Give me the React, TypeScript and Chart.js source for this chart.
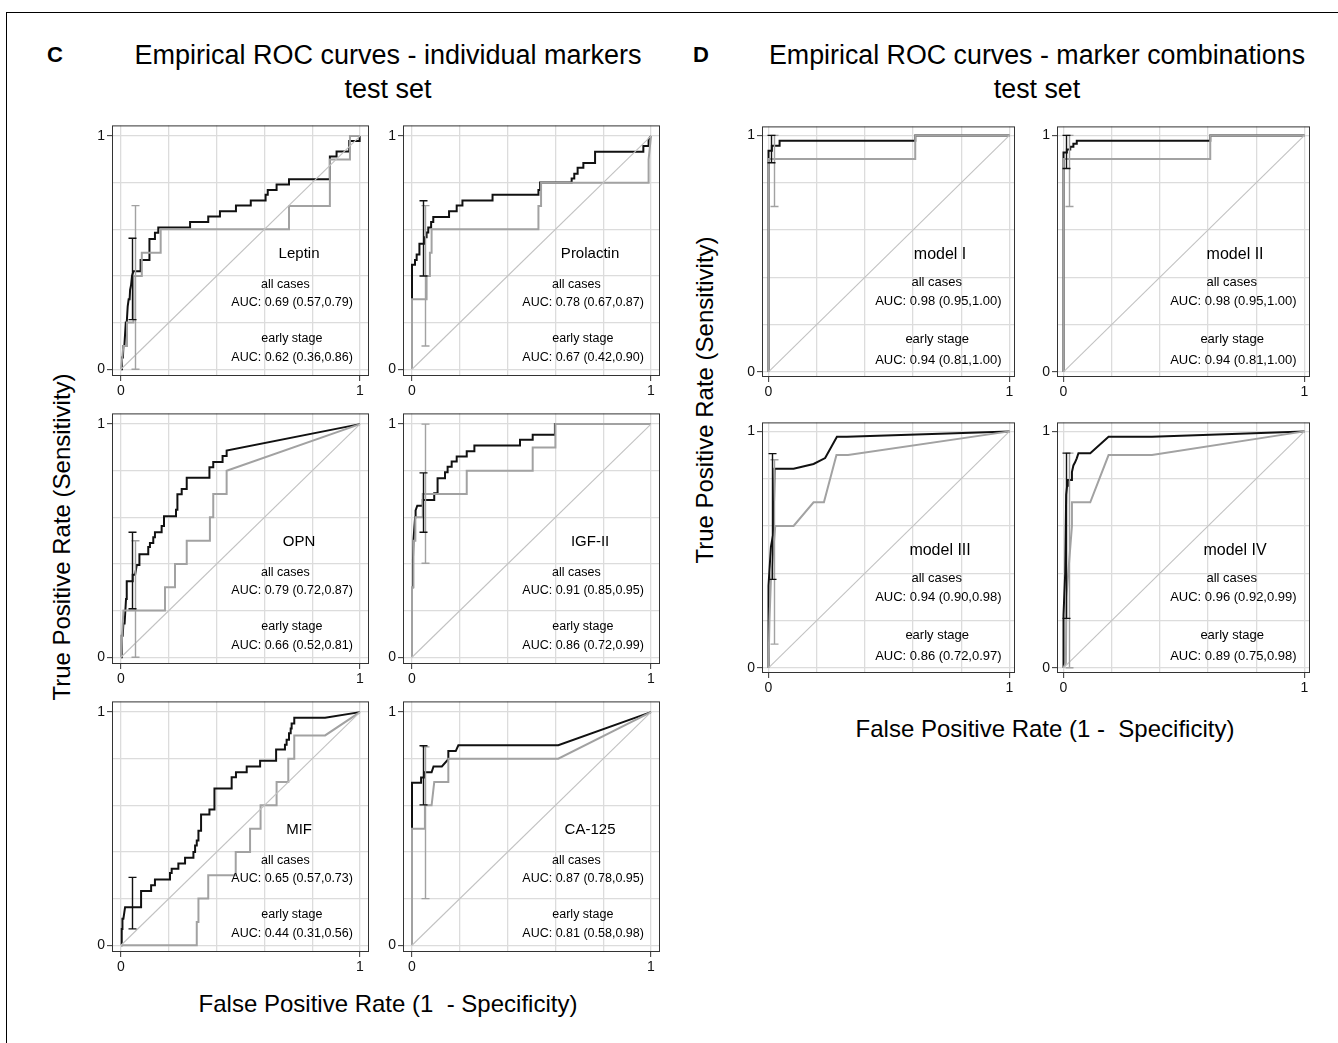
import React, { useEffect, useRef } from "react";
import { Chart, registerables } from "chart.js";

Chart.register(...registerables);

type Pt = [number, number];
type Bar = [number, number, number]; // x, low, high

const FONT = "'Liberation Sans', Arial, Helvetica, sans-serif";

// ---------- tick values ----------
const GRID_TICKS = [0, 0.2, 0.4, 0.6, 0.8, 1];
const LABELED_TICKS = [0, 1];
const DIAGONAL: Pt[] = [[0, 0], [1, 1]];

// ---------- panel names and AUC texts ----------
const MARKER_NAMES = ["Leptin", "Prolactin", "OPN", "IGF-II", "MIF", "CA-125"];
const MODEL_NAMES = ["model I", "model II", "model III", "model IV"];
const MARKER_AUC_ALL = [
  "AUC: 0.69 (0.57,0.79)",
  "AUC: 0.78 (0.67,0.87)",
  "AUC: 0.79 (0.72,0.87)",
  "AUC: 0.91 (0.85,0.95)",
  "AUC: 0.65 (0.57,0.73)",
  "AUC: 0.87 (0.78,0.95)",
];
const MARKER_AUC_EARLY = [
  "AUC: 0.62 (0.36,0.86)",
  "AUC: 0.67 (0.42,0.90)",
  "AUC: 0.66 (0.52,0.81)",
  "AUC: 0.86 (0.72,0.99)",
  "AUC: 0.44 (0.31,0.56)",
  "AUC: 0.81 (0.58,0.98)",
];
const MODEL_AUC_ALL = [
  "AUC: 0.98 (0.95,1.00)",
  "AUC: 0.98 (0.95,1.00)",
  "AUC: 0.94 (0.90,0.98)",
  "AUC: 0.96 (0.92,0.99)",
];
const MODEL_AUC_EARLY = [
  "AUC: 0.94 (0.81,1.00)",
  "AUC: 0.94 (0.81,1.00)",
  "AUC: 0.86 (0.72,0.97)",
  "AUC: 0.89 (0.75,0.98)",
];

// ---------- ROC curves: all cases (black) and early stage (grey) ----------
const leptinAll: Pt[] = [[0,0],[0.004,0.05],[0.008,0.05],[0.01,0.1],[0.014,0.1],[0.02,0.2],[0.024,0.2],[0.028,0.27],[0.032,0.3],[0.036,0.3],[0.038,0.34],[0.042,0.36],[0.046,0.4],[0.052,0.42],[0.082,0.42],[0.082,0.469],[0.119,0.469],[0.119,0.559],[0.142,0.559],[0.142,0.585],[0.156,0.585],[0.156,0.608],[0.289,0.608],[0.289,0.632],[0.365,0.632],[0.365,0.655],[0.414,0.655],[0.414,0.678],[0.481,0.678],[0.481,0.702],[0.543,0.702],[0.543,0.724],[0.605,0.724],[0.605,0.748],[0.614,0.748],[0.614,0.769],[0.651,0.769],[0.651,0.793],[0.703,0.793],[0.703,0.815],[0.874,0.815],[0.874,0.913],[0.902,0.913],[0.902,0.934],[0.955,0.934],[0.955,0.979],[0.997,0.979],[0.997,1],[1,1]];
const leptinEarly: Pt[] = [[0,0],[0.01,0.1],[0.025,0.1],[0.025,0.2],[0.052,0.2],[0.052,0.4],[0.087,0.4],[0.087,0.5],[0.166,0.5],[0.166,0.6],[0.703,0.6],[0.703,0.7],[0.874,0.7],[0.874,0.9],[0.958,0.9],[0.958,1],[1,1]];

const prolactinAll: Pt[] = [[0,0.3],[0,0.448],[0.0126,0.448],[0.0126,0.469],[0.0195,0.469],[0.0195,0.492],[0.031,0.492],[0.031,0.538],[0.052,0.538],[0.052,0.566],[0.061,0.566],[0.061,0.587],[0.068,0.587],[0.068,0.608],[0.08,0.608],[0.08,0.632],[0.089,0.632],[0.089,0.653],[0.155,0.653],[0.155,0.678],[0.187,0.678],[0.187,0.702],[0.211,0.702],[0.211,0.724],[0.337,0.724],[0.337,0.748],[0.529,0.748],[0.529,0.769],[0.536,0.769],[0.536,0.801],[0.668,0.801],[0.668,0.818],[0.679,0.818],[0.679,0.839],[0.693,0.839],[0.693,0.864],[0.717,0.864],[0.717,0.885],[0.766,0.885],[0.766,0.933],[0.968,0.933],[0.968,0.958],[0.99,0.958],[0.99,0.986],[1,1]];
const prolactinEarly: Pt[] = [[0,0],[0,0.3],[0.061,0.3],[0.061,0.4],[0.075,0.4],[0.075,0.5],[0.082,0.5],[0.082,0.6],[0.529,0.6],[0.529,0.7],[0.54,0.7],[0.54,0.8],[0.99,0.8],[0.99,0.9],[1,1]];

const opnAll: Pt[] = [[0,0],[0.003,0.092],[0.007,0.092],[0.01,0.145],[0.015,0.145],[0.021,0.25],[0.024,0.326],[0.049,0.326],[0.049,0.354],[0.059,0.354],[0.066,0.396],[0.077,0.396],[0.077,0.442],[0.114,0.442],[0.114,0.473],[0.121,0.473],[0.121,0.49],[0.135,0.49],[0.135,0.515],[0.142,0.515],[0.142,0.536],[0.17,0.536],[0.17,0.563],[0.18,0.563],[0.18,0.605],[0.23,0.605],[0.23,0.633],[0.236,0.633],[0.236,0.699],[0.254,0.699],[0.254,0.722],[0.275,0.722],[0.275,0.77],[0.37,0.77],[0.37,0.815],[0.386,0.815],[0.386,0.838],[0.425,0.838],[0.425,0.863],[0.442,0.863],[0.442,0.887],[1,1]];
const opnEarly: Pt[] = [[0,0],[0.01,0.2],[0.184,0.2],[0.184,0.3],[0.226,0.3],[0.226,0.4],[0.275,0.4],[0.275,0.5],[0.372,0.5],[0.372,0.6],[0.386,0.6],[0.386,0.7],[0.442,0.7],[0.442,0.8],[1,1]];

const igfAll: Pt[] = [[0,0.3],[0.004,0.42],[0.006,0.5],[0.01,0.56],[0.013,0.6],[0.015,0.63],[0.022,0.65],[0.045,0.65],[0.045,0.675],[0.093,0.675],[0.093,0.703],[0.107,0.703],[0.107,0.768],[0.138,0.768],[0.138,0.794],[0.149,0.794],[0.149,0.817],[0.166,0.817],[0.166,0.84],[0.187,0.84],[0.187,0.861],[0.229,0.861],[0.229,0.884],[0.261,0.884],[0.261,0.908],[0.452,0.908],[0.452,0.933],[0.505,0.933],[0.505,0.954],[0.598,0.954],[0.598,1],[1,1]];
const igfEarly: Pt[] = [[0,0],[0,0.3],[0.006,0.3],[0.006,0.5],[0.014,0.5],[0.014,0.6],[0.045,0.6],[0.045,0.7],[0.229,0.7],[0.229,0.8],[0.505,0.8],[0.505,0.9],[0.6,0.9],[0.6,1],[1,1]];

const mifAll: Pt[] = [[0,0],[0.003,0.07],[0.006,0.07],[0.006,0.114],[0.01,0.114],[0.014,0.142],[0.017,0.163],[0.084,0.163],[0.084,0.233],[0.126,0.233],[0.126,0.257],[0.142,0.257],[0.142,0.282],[0.205,0.282],[0.205,0.31],[0.212,0.31],[0.212,0.328],[0.24,0.328],[0.24,0.351],[0.268,0.351],[0.268,0.375],[0.303,0.375],[0.303,0.4],[0.31,0.4],[0.31,0.428],[0.317,0.428],[0.317,0.449],[0.324,0.449],[0.324,0.491],[0.335,0.491],[0.335,0.561],[0.37,0.561],[0.37,0.582],[0.391,0.582],[0.391,0.672],[0.463,0.672],[0.463,0.721],[0.481,0.721],[0.481,0.742],[0.526,0.742],[0.526,0.767],[0.582,0.767],[0.582,0.791],[0.649,0.791],[0.649,0.84],[0.686,0.84],[0.686,0.86],[0.693,0.86],[0.693,0.881],[0.703,0.881],[0.703,0.909],[0.71,0.909],[0.71,0.93],[0.714,0.93],[0.714,0.951],[0.725,0.951],[0.725,0.976],[0.854,0.976],[1,1]];
const mifEarly: Pt[] = [[0,0],[0.317,0],[0.317,0.1],[0.324,0.1],[0.324,0.2],[0.365,0.2],[0.365,0.3],[0.48,0.3],[0.48,0.4],[0.54,0.4],[0.54,0.5],[0.584,0.5],[0.584,0.6],[0.651,0.6],[0.651,0.7],[0.7,0.7],[0.7,0.8],[0.725,0.8],[0.725,0.9],[0.854,0.9],[1,1]];

const ca125All: Pt[] = [[0,0.5],[0,0.697],[0.038,0.697],[0.038,0.72],[0.05,0.72],[0.05,0.742],[0.082,0.742],[0.09,0.767],[0.125,0.767],[0.152,0.798],[0.152,0.833],[0.183,0.833],[0.194,0.858],[0.612,0.858],[1,1]];
const ca125Early: Pt[] = [[0,0],[0,0.5],[0.054,0.5],[0.054,0.6],[0.082,0.6],[0.093,0.7],[0.152,0.7],[0.152,0.8],[0.612,0.8],[1,1]];

const model1All: Pt[] = [[0,0],[0,0.935],[0.014,0.935],[0.014,0.956],[0.046,0.956],[0.046,0.977],[0.609,0.977],[0.609,1],[1,1]];
const model1Early: Pt[] = [[0,0],[0,0.9],[0.609,0.9],[0.609,1],[1,1]];
const model2All: Pt[] = [[0,0],[0,0.928],[0.014,0.928],[0.014,0.94],[0.028,0.94],[0.028,0.952],[0.041,0.952],[0.041,0.965],[0.055,0.965],[0.055,0.977],[0.609,0.977],[0.609,1],[1,1]];
const model2Early: Pt[] = [[0,0],[0,0.9],[0.609,0.9],[0.609,1],[1,1]];
const model3All: Pt[] = [[0,0],[0,0.347],[0.01,0.512],[0.021,0.574],[0.025,0.842],[0.104,0.842],[0.187,0.862],[0.235,0.887],[0.284,0.977],[0.325,0.977],[1,1]];
const model3Early: Pt[] = [[0,0],[0.004,0.2],[0.01,0.37],[0.028,0.6],[0.104,0.6],[0.187,0.7],[0.23,0.7],[0.282,0.9],[0.33,0.9],[1,1]];
const model4All: Pt[] = [[0,0],[0,0.223],[0.007,0.4],[0.011,0.732],[0.015,0.77],[0.018,0.794],[0.032,0.794],[0.035,0.828],[0.041,0.856],[0.048,0.869],[0.055,0.886],[0.062,0.908],[0.111,0.908],[0.187,0.977],[0.367,0.977],[1,1]];
const model4Early: Pt[] = [[0,0],[0.01,0.02],[0.012,0.3],[0.035,0.6],[0.035,0.7],[0.111,0.7],[0.187,0.9],[0.367,0.9],[1,1]];

// ---------- 95% CI error bars at fixed FPR: [x, low, high] ----------
const leptinBars: Bar[][] = [[[0.045, 0.213, 0.562]], [[0.059, 0, 0.702]]];
const prolactinBars: Bar[][] = [[[0.045, 0.4, 0.723]], [[0.054, 0.1, 0.702]]];
const opnBars: Bar[][] = [[[0.045, 0.208, 0.536]], [[0.059, 0, 0.5]]];
const igfBars: Bar[][] = [[[0.045, 0.536, 0.791]], [[0.054, 0.403, 1]]];
const mifBars: Bar[][] = [[[0.045, 0.07, 0.291]], []];
const ca125Bars: Bar[][] = [[[0.045, 0.602, 0.856]], [[0.054, 0.2, 0.851]]];
const model1Bars: Bar[][] = [[[0.01, 0.884, 1]], [[0.021, 0.699, 1]]];
const model2Bars: Bar[][] = [[[0.012, 0.86, 1]], [[0.021, 0.699, 1]]];
const model3Bars: Bar[][] = [[[0.014, 0.374, 0.906]], [[0.024, 0.1, 0.88]]];
const model4Bars: Bar[][] = [[[0.01, 0.209, 0.908]], [[0.021, 0, 0.908]]];

// ---------- styles ----------
const BLACK = "#111111";
const GREY = "#a2a2a2";
const DIAG = "#c2c2c2";
const GRID = "#dcdcdc";
const FRAME = "#333333";

// ---------- layout (pixels) ----------
const AXW = 30; // y-axis strip width
const AXH = 24; // x-axis strip height
const PT = 4;
const PR = 4;

type Style = {
  xmin: number; xmax: number; ymin: number; ymax: number;
  nameSize: number; textSize: number;
  nameX: number; allX: number; aucX: number; earlyX: number;
  ys: number[];
};

const STYLE_C: Style = {
  xmin: -0.0377, xmax: 1.0377, ymin: -0.029, ymax: 1.046,
  nameSize: 15, textSize: 12.5,
  nameX: 0.745, allX: 0.688, aucX: 0.716, earlyX: 0.715,
  ys: [0.495, 0.362, 0.284, 0.132, 0.051],
};
const STYLE_D: Style = {
  xmin: -0.027, xmax: 1.023, ymin: -0.022, ymax: 1.038,
  nameSize: 16, textSize: 13,
  nameX: 0.712, allX: 0.698, aucX: 0.705, earlyX: 0.7,
  ys: [0.496, 0.378, 0.297, 0.135, 0.05],
};

type PanelCfg = {
  left: number; top: number; w: number; h: number;
  style: Style;
  all: Pt[]; early: Pt[]; bars: Bar[][];
  name: string; aucAll: string; aucEarly: string;
};

const C_COLS = [112, 403];
const C_ROWS = [119, 407, 695];
const D_COLS = [762, 1057];
const D_ROWS = [120, 416];

const MARKER_CURVES = [
  [leptinAll, leptinEarly, leptinBars],
  [prolactinAll, prolactinEarly, prolactinBars],
  [opnAll, opnEarly, opnBars],
  [igfAll, igfEarly, igfBars],
  [mifAll, mifEarly, mifBars],
  [ca125All, ca125Early, ca125Bars],
] as const;
const MODEL_CURVES = [
  [model1All, model1Early, model1Bars],
  [model2All, model2Early, model2Bars],
  [model3All, model3Early, model3Bars],
  [model4All, model4Early, model4Bars],
] as const;

const PANELS: PanelCfg[] = [
  ...MARKER_CURVES.map((c, i) => ({
    left: C_COLS[i % 2], top: C_ROWS[Math.floor(i / 2)], w: 257, h: 257,
    style: STYLE_C,
    all: c[0] as Pt[], early: c[1] as Pt[], bars: c[2] as Bar[][],
    name: MARKER_NAMES[i], aucAll: MARKER_AUC_ALL[i], aucEarly: MARKER_AUC_EARLY[i],
  })),
  ...MODEL_CURVES.map((c, i) => ({
    left: D_COLS[i % 2], top: D_ROWS[Math.floor(i / 2)], w: 253, h: 257,
    style: STYLE_D,
    all: c[0] as Pt[], early: c[1] as Pt[], bars: c[2] as Bar[][],
    name: MODEL_NAMES[i], aucAll: MODEL_AUC_ALL[i], aucEarly: MODEL_AUC_EARLY[i],
  })),
];

const isLabeled = (v: number) => LABELED_TICKS.some((t) => Math.abs(t - v) < 1e-9);

const decorPlugin = {
  id: "decor",
  beforeDatasetsDraw(chart: any) {
    const { ctx, chartArea: a } = chart;
    ctx.save();
    ctx.strokeStyle = FRAME;
    ctx.lineWidth = 1;
    ctx.strokeRect(a.left + 0.5, a.top + 0.5, a.right - a.left - 1, a.bottom - a.top - 1);
    ctx.restore();
  },
  afterDatasetsDraw(chart: any, _args: any, opts: any) {
    const { ctx } = chart;
    const xs = chart.scales.x;
    const ys = chart.scales.y;
    const colors = [BLACK, GREY];
    ctx.save();
    [1, 0].forEach((k) => {
      ctx.strokeStyle = colors[k];
      ctx.lineWidth = 1.4;
      (opts.bars[k] || []).forEach((b: Bar) => {
        const px = Math.round(xs.getPixelForValue(b[0])) + 0.5;
        const lo = ys.getPixelForValue(b[1]);
        const hi = ys.getPixelForValue(b[2]);
        ctx.beginPath();
        ctx.moveTo(px, lo);
        ctx.lineTo(px, hi);
        ctx.moveTo(px - 4, lo);
        ctx.lineTo(px + 4, lo);
        ctx.moveTo(px - 4, hi);
        ctx.lineTo(px + 4, hi);
        ctx.stroke();
      });
    });
    ctx.restore();
  },
  afterDraw(chart: any, _args: any, opts: any) {
    const { ctx } = chart;
    const xs = chart.scales.x;
    const ys = chart.scales.y;
    ctx.save();
    ctx.fillStyle = "#000";
    ctx.textAlign = "center";
    ctx.textBaseline = "middle";
    opts.texts.forEach((t: any) => {
      ctx.font = `${t.size}px ${FONT}`;
      ctx.fillText(t.text, xs.getPixelForValue(t.x), ys.getPixelForValue(t.y));
    });
    ctx.restore();
  },
};

function RocPanel({ cfg }: { cfg: PanelCfg }) {
  const ref = useRef<HTMLCanvasElement | null>(null);
  const cw = cfg.w + AXW + PR;
  const ch = cfg.h + PT + AXH;
  useEffect(() => {
    if (!ref.current) return;
    const s = cfg.style;
    const toXY = (p: Pt[]) => p.map(([x, y]) => ({ x, y }));
    const axisCommon = {
      type: "linear" as const,
      afterBuildTicks: (scale: any) => {
        scale.ticks = GRID_TICKS.map((v) => ({ value: v }));
      },
      ticks: {
        autoSkip: false,
        maxRotation: 0,
        padding: 2,
        color: "#111",
        font: { family: FONT, size: 14 },
        callback: (v: any) => (isLabeled(Number(v)) ? String(Math.round(Number(v))) : ""),
      },
      grid: {
        color: GRID,
        lineWidth: 1.3,
        tickLength: 5,
        tickWidth: 1,
        tickColor: (ctx: any) => (ctx.tick && isLabeled(ctx.tick.value) ? FRAME : "rgba(0,0,0,0)"),
      },
      border: { display: false },
    };
    const chart = new Chart(ref.current, {
      type: "line",
      data: {
        datasets: [
          { data: toXY(DIAGONAL), borderColor: DIAG, borderWidth: 1.1, pointRadius: 0, fill: false },
          { data: toXY(cfg.early), borderColor: GREY, borderWidth: 2, pointRadius: 0, fill: false },
          { data: toXY(cfg.all), borderColor: BLACK, borderWidth: 2, pointRadius: 0, fill: false },
        ],
      },
      options: {
        animation: false,
        responsive: false,
        maintainAspectRatio: false,
        devicePixelRatio: 1,
        events: [],
        layout: { padding: { top: PT, right: PR, left: 0, bottom: 0 } },
        elements: { line: { tension: 0, borderJoinStyle: "miter" } },
        plugins: {
          legend: { display: false },
          tooltip: { enabled: false },
          title: { display: false },
          decor: {
            bars: cfg.bars,
            texts: [
              { text: cfg.name, x: s.nameX, y: s.ys[0], size: s.nameSize },
              { text: "all cases", x: s.allX, y: s.ys[1], size: s.textSize },
              { text: cfg.aucAll, x: s.aucX, y: s.ys[2], size: s.textSize },
              { text: "early stage", x: s.earlyX, y: s.ys[3], size: s.textSize },
              { text: cfg.aucEarly, x: s.aucX, y: s.ys[4], size: s.textSize },
            ],
          },
        } as any,
        scales: {
          x: {
            ...axisCommon,
            min: s.xmin,
            max: s.xmax,
            afterFit: (scale: any) => {
              scale.height = AXH;
            },
          },
          y: {
            ...axisCommon,
            min: s.ymin,
            max: s.ymax,
            afterFit: (scale: any) => {
              scale.width = AXW;
            },
          },
        } as any,
      },
      plugins: [decorPlugin as any],
    });
    return () => chart.destroy();
  }, [cfg]);
  return (
    <canvas
      ref={ref}
      width={cw}
      height={ch}
      style={{
        position: "absolute",
        left: cfg.left - AXW,
        top: cfg.top - PT,
        width: cw,
        height: ch,
      }}
    />
  );
}

const textBase: React.CSSProperties = {
  position: "absolute",
  fontFamily: FONT,
  color: "#000",
  whiteSpace: "pre",
  lineHeight: 1,
};

function Centered({ x, y, size, text, bold, rotate }: { x: number; y: number; size: number; text: string; bold?: boolean; rotate?: boolean }) {
  return (
    <div
      style={{
        ...textBase,
        left: x,
        top: y,
        fontSize: size,
        fontWeight: bold ? 700 : 400,
        transform: `translate(-50%, -50%)${rotate ? " rotate(-90deg)" : ""}`,
      }}
    >
      {text}
    </div>
  );
}

export default function App() {
  return (
    <div
      style={{
        position: "absolute",
        left: 0,
        top: 0,
        width: 1338,
        height: 1043,
        background: "#fff",
        overflow: "hidden",
      }}
    >
      <div
        style={{
          position: "absolute",
          left: 6,
          top: 12,
          width: 1340,
          height: 1040,
          borderTop: "1px solid #000",
          borderLeft: "1px solid #000",
        }}
      />
      <Centered x={55} y={55} size={22} bold text="C" />
      <Centered x={701} y={55} size={22} bold text="D" />
      <Centered x={388} y={55} size={27} text="Empirical ROC curves - individual markers" />
      <Centered x={388} y={89} size={27} text="test set" />
      <Centered x={1037} y={55} size={26.8} text="Empirical ROC curves - marker combinations" />
      <Centered x={1037} y={89} size={26.8} text="test set" />
      <Centered x={62} y={537} size={24} rotate text="True Positive Rate (Sensitivity)" />
      <Centered x={705} y={400} size={24} rotate text="True Positive Rate (Sensitivity)" />
      <Centered x={388} y={1004} size={24} text="False Positive Rate (1  - Specificity)" />
      <Centered x={1045} y={729} size={24} text="False Positive Rate (1 -  Specificity)" />
      {PANELS.map((p, i) => (
        <RocPanel key={i} cfg={p} />
      ))}
    </div>
  );
}
